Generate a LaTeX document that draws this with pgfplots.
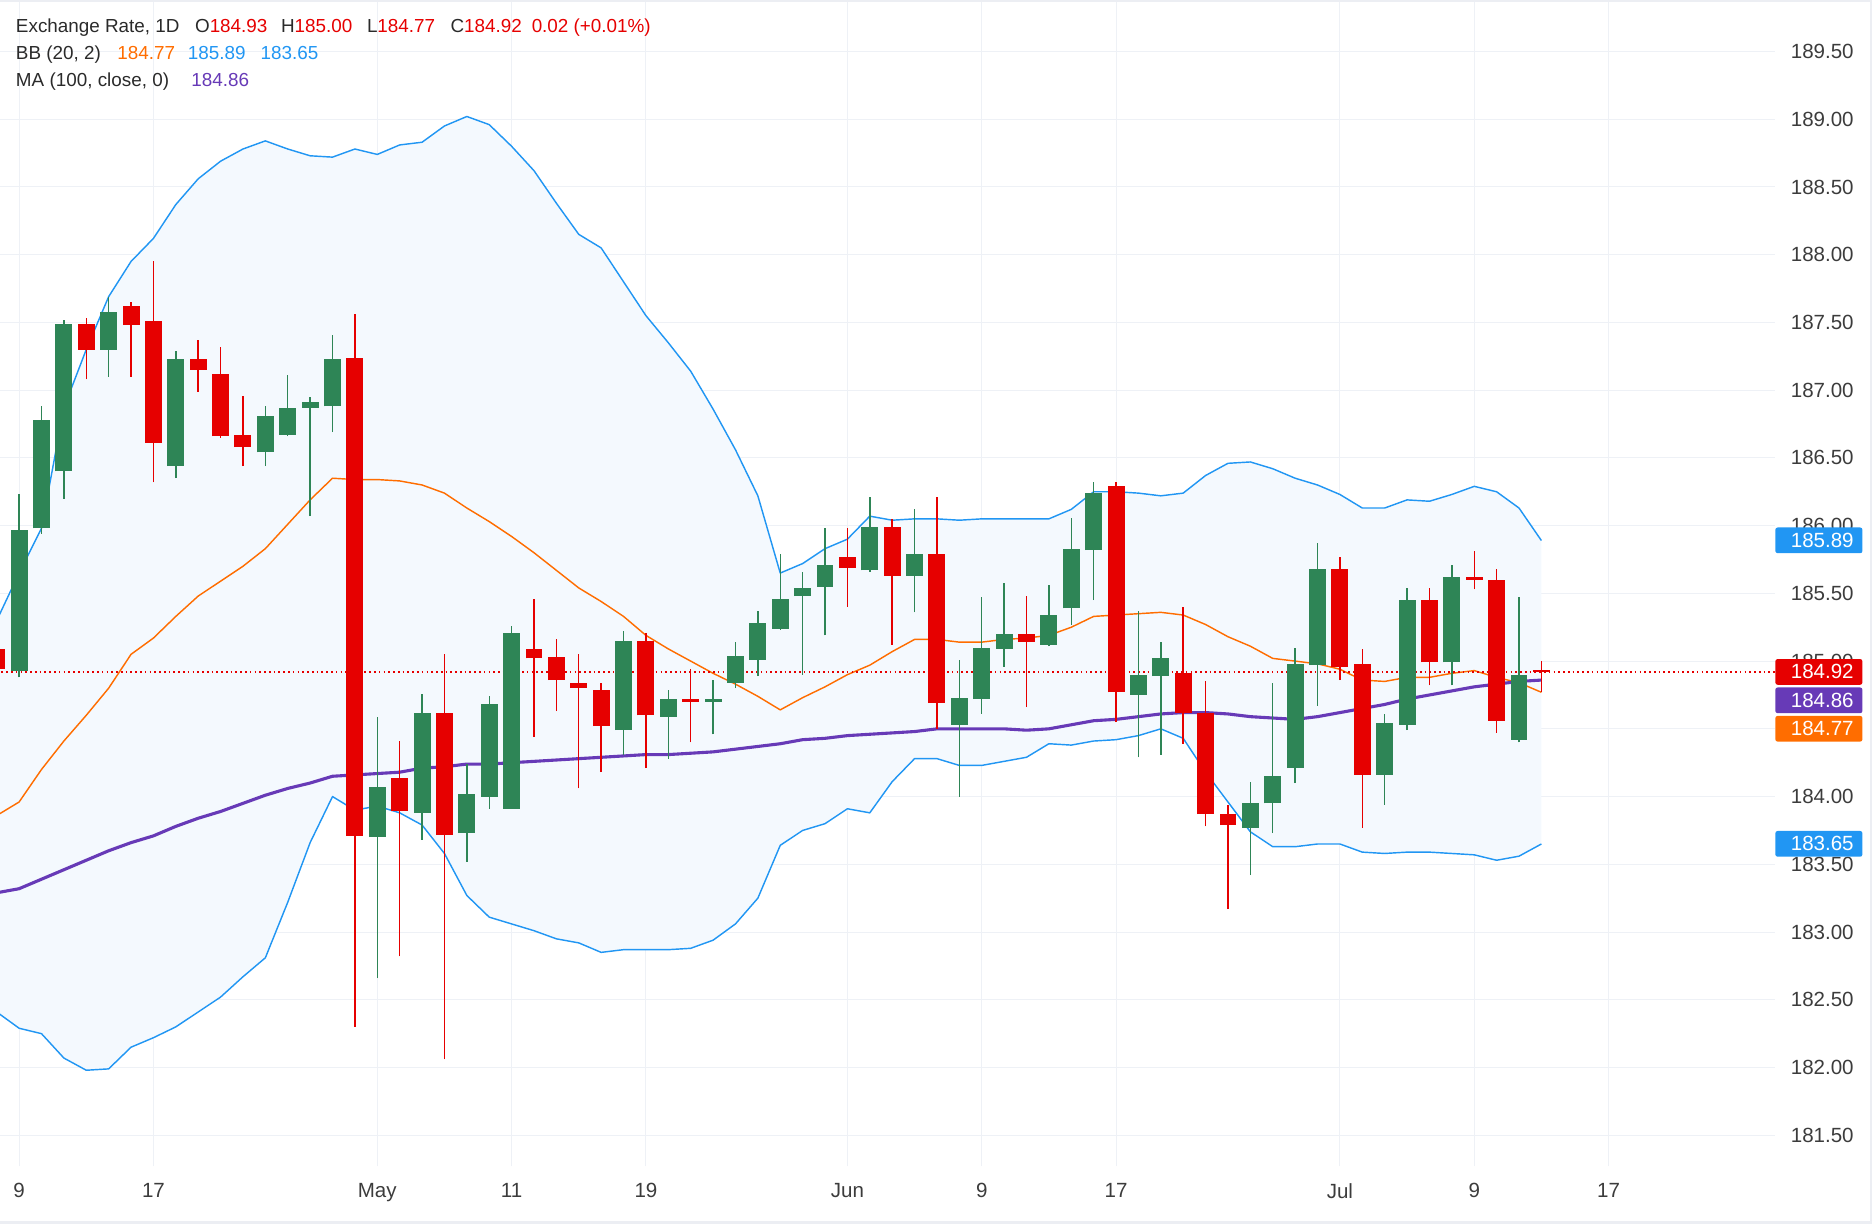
\documentclass[border=0pt]{standalone}
\usepackage{fontspec}
\setmainfont{Liberation Sans}
\usepackage{pgfplots}
\usepackage{pgfplotstable}
\pgfplotsset{compat=1.18}
\definecolor{upc}{RGB}{46,133,86}
\definecolor{dnc}{RGB}{230,0,0}
\definecolor{bbblue}{RGB}{33,150,243}
\definecolor{bbfill}{RGB}{244,249,254}
\definecolor{bborange}{RGB}{255,109,0}
\definecolor{mapurple}{RGB}{103,58,183}
\definecolor{gridc}{RGB}{238,241,246}
\definecolor{txt}{RGB}{42,42,42}
\definecolor{ticktxt}{RGB}{60,60,60}
\definecolor{framec}{RGB}{236,238,243}

\pgfplotstableread{
i O H L C
0 184.93 186.23 184.88 185.97
1 185.98 186.88 185.94 186.78
2 186.40 187.52 186.20 187.49
4 187.30 187.69 187.10 187.58
7 186.44 187.29 186.35 187.23
11 186.54 186.88 186.44 186.81
12 186.67 187.11 186.66 186.87
13 186.87 186.95 186.07 186.91
14 186.88 187.41 186.69 187.23
16 183.70 184.59 182.66 184.07
18 183.88 184.76 183.68 184.62
20 183.73 184.24 183.52 184.02
21 184.00 184.74 183.91 184.68
22 183.91 185.26 183.91 185.21
27 184.49 185.22 184.31 185.15
29 184.59 184.79 184.28 184.72
31 184.70 184.86 184.46 184.72
32 184.84 185.14 184.80 185.04
33 185.01 185.37 184.89 185.28
34 185.24 185.79 185.23 185.46
35 185.48 185.66 184.90 185.54
36 185.55 185.98 185.19 185.71
38 185.67 186.21 185.66 185.99
40 185.63 186.12 185.36 185.79
42 184.53 185.01 184.00 184.73
43 184.72 185.47 184.61 185.10
44 185.09 185.58 184.96 185.20
46 185.12 185.56 185.11 185.34
47 185.39 186.06 185.27 185.83
48 185.82 186.32 185.45 186.24
50 184.75 185.37 184.29 184.90
51 184.89 185.14 184.31 185.02
55 183.77 184.11 183.42 183.95
56 183.95 184.84 183.73 184.15
57 184.21 185.10 184.10 184.98
58 184.97 185.87 184.67 185.68
61 184.16 184.61 183.94 184.54
62 184.53 185.54 184.49 185.45
64 184.99 185.71 184.82 185.62
67 184.42 185.47 184.40 184.90
}\upcandles

\pgfplotstableread{
i O H L C
-1 185.09 185.12 184.92 184.94
3 187.49 187.53 187.08 187.30
5 187.62 187.65 187.10 187.48
6 187.51 187.95 186.32 186.61
8 187.23 187.37 186.99 187.15
9 187.12 187.32 186.65 186.66
10 186.67 186.96 186.44 186.58
15 187.24 187.56 182.30 183.71
17 184.14 184.41 182.82 183.89
19 184.62 185.05 182.06 183.72
23 185.09 185.46 184.44 185.02
24 185.03 185.16 184.63 184.86
25 184.84 185.05 184.06 184.80
26 184.79 184.84 184.18 184.52
28 185.15 185.21 184.21 184.60
30 184.71 184.94 184.40 184.70
37 185.77 185.98 185.40 185.69
39 185.99 186.05 185.12 185.63
41 185.79 186.21 184.50 184.69
45 185.20 185.48 184.66 185.14
49 186.29 186.32 184.55 184.77
52 184.91 185.40 184.39 184.62
53 184.62 184.85 183.78 183.87
54 183.87 183.94 183.17 183.79
59 185.68 185.77 184.86 184.96
60 184.98 185.09 183.77 184.16
63 185.45 185.54 184.82 184.99
65 185.62 185.81 185.53 185.60
66 185.60 185.68 184.47 184.56
68 184.93 185.00 184.77 184.92
}\dncandles

\pgfplotstableread{
i mid up lo ma
-1 183.86 185.30 182.41 183.29
0 183.96 185.65 182.29 183.32
1 184.20 185.98 182.25 183.39
2 184.41 186.87 182.07 183.46
3 184.60 187.30 181.98 183.53
4 184.80 187.69 181.99 183.60
5 185.05 187.95 182.15 183.66
6 185.17 188.12 182.22 183.71
7 185.33 188.37 182.30 183.78
8 185.48 188.56 182.41 183.84
9 185.59 188.69 182.52 183.89
10 185.70 188.78 182.67 183.95
11 185.83 188.84 182.81 184.01
12 186.01 188.78 183.22 184.06
13 186.19 188.73 183.66 184.10
14 186.35 188.72 184.00 184.15
15 186.34 188.78 183.90 184.16
16 186.34 188.74 183.93 184.17
17 186.33 188.81 183.88 184.18
18 186.30 188.83 183.79 184.21
19 186.24 188.95 183.58 184.22
20 186.13 189.02 183.27 184.24
21 186.03 188.96 183.11 184.24
22 185.92 188.80 183.06 184.25
23 185.80 188.62 183.01 184.26
24 185.67 188.38 182.95 184.27
25 185.54 188.15 182.92 184.28
26 185.44 188.05 182.85 184.29
27 185.33 187.80 182.87 184.30
28 185.19 187.55 182.87 184.31
29 185.09 187.35 182.87 184.31
30 185.00 187.14 182.88 184.32
31 184.91 186.86 182.94 184.33
32 184.83 186.56 183.06 184.35
33 184.74 186.22 183.25 184.37
34 184.64 185.65 183.64 184.39
35 184.73 185.72 183.75 184.42
36 184.81 185.83 183.80 184.43
37 184.90 185.90 183.91 184.45
38 184.97 186.07 183.88 184.46
39 185.07 186.04 184.11 184.47
40 185.16 186.05 184.28 184.48
41 185.16 186.05 184.28 184.50
42 185.14 186.04 184.23 184.50
43 185.14 186.05 184.23 184.50
44 185.16 186.05 184.26 184.50
45 185.17 186.05 184.29 184.49
46 185.19 186.05 184.39 184.50
47 185.25 186.12 184.38 184.53
48 185.33 186.25 184.41 184.56
49 185.34 186.25 184.42 184.57
50 185.35 186.24 184.45 184.59
51 185.36 186.22 184.50 184.61
52 185.34 186.24 184.43 184.62
53 185.27 186.37 184.18 184.62
54 185.18 186.46 183.96 184.61
55 185.11 186.47 183.74 184.59
56 185.02 186.42 183.63 184.58
57 185.00 186.35 183.63 184.57
58 184.98 186.30 183.65 184.59
59 184.94 186.23 183.65 184.62
60 184.86 186.13 183.59 184.65
61 184.85 186.13 183.58 184.68
62 184.88 186.19 183.59 184.72
63 184.88 186.18 183.59 184.75
64 184.91 186.23 183.58 184.78
65 184.93 186.29 183.57 184.81
66 184.88 186.25 183.53 184.83
67 184.84 186.13 183.56 184.85
68 184.77 185.89 183.65 184.86
}\ind

\newcommand{\hdfont}{\fontsize{7.9}{9}\selectfont}
\newcommand{\tkfont}{\fontsize{8.6}{10}\selectfont}

\begin{document}
\begin{tikzpicture}
\useasboundingbox (0,-24pt) rectangle (784pt,488.5pt);
\begin{axis}[
  scale only axis, width=743.5pt, height=488.5pt,
  xmin=-0.8533, xmax=78.45, ymin=181.27, ymax=189.88,
  axis line style={draw=none},
  major tick length=0pt,
  grid=major, major grid style={draw=gridc, line width=0.45pt},
  xtick={0,6,16,22,28,37,43,49,59,65,71},
  xticklabels={9,17,May,11,19,Jun,9,17,Jul,9,17},
  ytick={181.5,182,182.5,183,183.5,184,184.5,185,185.5,186,186.5,187,187.5,188,188.5,189,189.5},
  scaled y ticks=false,
  yticklabel pos=right,
  ticklabel style={font=\tkfont, text=ticktxt},
  yticklabel style={anchor=east, inner sep=0pt, xshift=33pt,
    /pgf/number format/fixed, /pgf/number format/fixed zerofill,
    /pgf/number format/precision=2, /pgf/number format/assume math mode=true},
  xticklabel style={anchor=north, inner sep=0pt, yshift=-7pt},
]
% Bollinger band fill (stacked: lower, then width)
\addplot[draw=none, stack plots=y, forget plot] table[x=i, y=lo] {\ind};
\addplot[fill=bbfill, draw=none, stack plots=y, forget plot] table[x=i, y expr=\thisrow{up}-\thisrow{lo}] {\ind} \closedcycle;
\addplot[bbblue, line width=0.6pt, line join=round] table[x=i, y=up] {\ind};
\addplot[bbblue, line width=0.6pt, line join=round] table[x=i, y=lo] {\ind};
\addplot[bborange, line width=0.6pt, line join=round] table[x=i, y=mid] {\ind};
\addplot[mapurple, line width=1.3pt, line join=round] table[x=i, y=ma] {\ind};
\addplot[dnc, line width=0.5pt, dash pattern=on 0.7pt off 1.3pt] coordinates {(-1,184.92) (80,184.92)};
% wicks
\addplot[draw=none, error bars/.cd, y dir=plus, y explicit, error mark=none,
  error bar style={draw=upc, line width=0.6pt, solid}]
  table[x=i, y=L, y error plus expr={\thisrow{H}-\thisrow{L}}] {\upcandles};
\addplot[draw=none, error bars/.cd, y dir=plus, y explicit, error mark=none,
  error bar style={draw=dnc, line width=0.6pt, solid}]
  table[x=i, y=L, y error plus expr={\thisrow{H}-\thisrow{L}}] {\dncandles};
% bodies
\addplot[draw=none, error bars/.cd, y dir=plus, y explicit, error mark=none,
  error bar style={draw=upc, line width=7.1pt, solid}]
  table[x=i, y=O, y error plus expr={max(\thisrow{C}-\thisrow{O},0.018)}] {\upcandles};
\addplot[draw=none, error bars/.cd, y dir=plus, y explicit, error mark=none,
  error bar style={draw=dnc, line width=7.1pt, solid}]
  table[x=i, y=C, y error plus expr={max(\thisrow{O}-\thisrow{C},0.018)}] {\dncandles};
\end{axis}
% header
\begin{scope}[every node/.style={anchor=base west, inner sep=0pt, font=\hdfont, text=txt}]
\node at (6.5pt,474.75pt) {Exchange Rate, 1D};
\node at (81.5pt,474.75pt) {O\textcolor{dnc}{184.93}};
\node at (117.5pt,474.75pt) {H\textcolor{dnc}{185.00}};
\node at (153.5pt,474.75pt) {L\textcolor{dnc}{184.77}};
\node at (188.5pt,474.75pt) {C\textcolor{dnc}{184.92}};
\node at (222.5pt,474.75pt) {\textcolor{dnc}{0.02 (+0.01\%)}};
\node at (6.5pt,463.4pt) {BB (20, 2)};
\node at (49pt,463.4pt) {\textcolor{bborange}{184.77}};
\node at (78.5pt,463.4pt) {\textcolor{bbblue}{185.89}};
\node at (109pt,463.4pt) {\textcolor{bbblue}{183.65}};
\node at (6.5pt,452.25pt) {MA (100, close, 0)};
\node at (80pt,452.25pt) {\textcolor{mapurple}{184.86}};
\end{scope}
% price boxes
\foreach \yc/\col/\val in {262.2/bbblue/185.89, 207.1/dnc/184.92, 195.2/mapurple/184.86, 183.3/bborange/184.77, 135.1/bbblue/183.65}{
  \fill[\col, rounded corners=1pt] (743.5pt,\yc pt-5.4pt) rectangle (780pt,\yc pt+5.4pt);
  \node[anchor=east, inner sep=0pt, font=\tkfont, text=white] at (776.5pt,\yc pt) {\val};
}
% frame
\draw[framec, line width=2pt] (0,488.5pt) -- (784pt,488.5pt) -- (784pt,-24pt) -- (0,-24pt);
\end{tikzpicture}
\end{document}
